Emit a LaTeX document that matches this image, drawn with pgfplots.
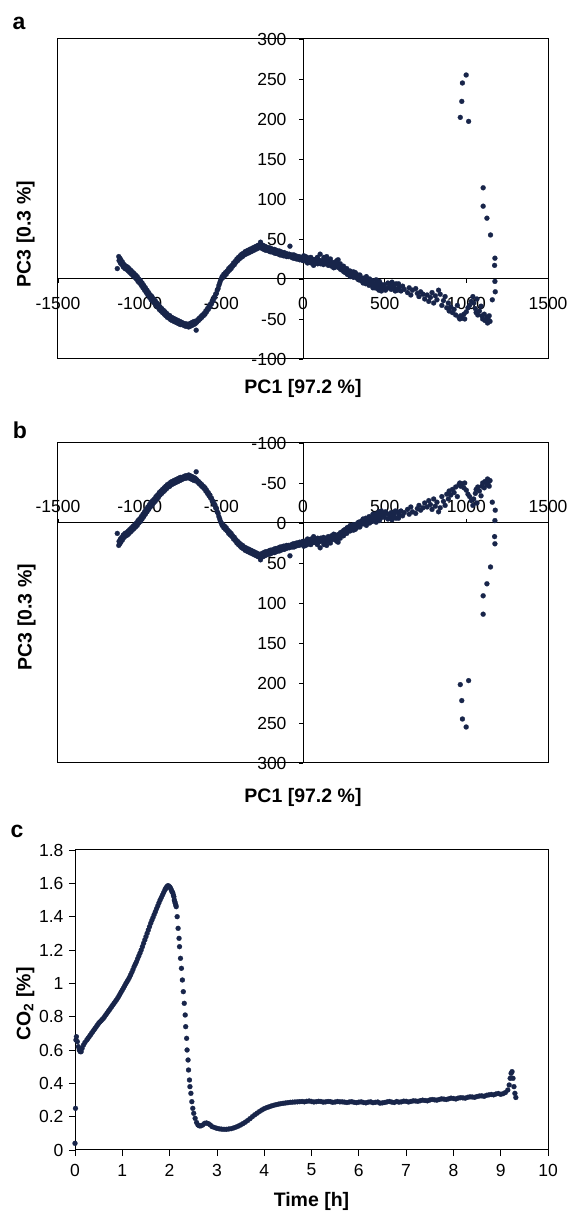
\documentclass[border=0pt]{standalone}
\usepackage{fontspec}
\setmainfont{Liberation Sans}
\usepackage{pgfplots}
\usepackage{pgfplotstable}
\pgfplotsset{compat=1.18}
\definecolor{navy}{RGB}{24,37,74}

\pgfplotstableread{
x y
-1137 13
-1128 28
-1126 23
-1122 26
-1118 20
-1115 24
-1110 18
-1105 21
-1100 15
-1095 18
-1090 13
-1085 16
-1080 12
-1075 15
-1070 10
-1065 13
-1060 8
-1055 11
-1050 6
-1045 9
-1040 4
-1035 7
-1030 2
-1025 5
-1020 0
-1015 3
-1010 -3
-1005 0
-1000 -5
-995 -2
-990 -8
-985 -5
-980 -11
-975 -8
-970 -14
-965 -11
-960 -17
-955 -14
-950 -20
-945 -17
-940 -23
-935 -20
-930 -26
-925 -22
-920 -28
-915 -25
-910 -30
-905 -27
-900 -33
-895 -30
-890 -35
-885 -32
-880 -38
-875 -35
-870 -40
-865 -37
-860 -42
-855 -39
-850 -44
-845 -41
-840 -46
-835 -43
-830 -48
-825 -45
-820 -49
-815 -46
-810 -51
-805 -48
-800 -52
-795 -49
-790 -53
-785 -50
-780 -54
-775 -51
-770 -55
-765 -52
-760 -56
-755 -53
-750 -57
-745 -54
-740 -57
-735 -55
-730 -58
-725 -56
-720 -59
-715 -56
-710 -59
-705 -57
-700 -60
-695 -56
-690 -59
-685 -55
-680 -58
-675 -54
-670 -57
-665 -53
-660 -56
-654 -64
-650 -54
-645 -51
-640 -52
-635 -49
-630 -50
-625 -47
-620 -48
-615 -45
-610 -46
-605 -43
-600 -44
-595 -40
-590 -41
-585 -37
-580 -38
-575 -34
-570 -35
-565 -31
-560 -31
-555 -27
-550 -27
-545 -23
-540 -23
-535 -19
-530 -18
-525 -14
-520 -12
-515 -8
-510 -5
-505 -2
-500 0
-495 3
-490 2
-485 6
-480 4
-475 8
-470 6
-465 10
-460 9
-455 13
-450 11
-445 15
-440 13
-435 17
-430 16
-425 20
-420 18
-415 22
-410 21
-405 25
-400 23
-395 27
-390 25
-385 29
-380 27
-375 31
-370 28
-365 32
-360 30
-355 34
-350 31
-345 35
-340 32
-335 36
-330 33
-325 37
-320 34
-315 38
-310 35
-305 39
-300 36
-295 40
-290 37
-285 41
-280 38
-275 42
-270 39
-265 43
-260 46
-255 41
-250 38
-245 42
-240 37
-235 41
-230 36
-225 40
-220 36
-215 39
-210 35
-205 39
-200 34
-195 38
-190 34
-185 37
-180 33
-175 37
-170 32
-165 36
-160 32
-155 35
-150 31
-145 35
-140 30
-135 34
-130 30
-125 33
-120 29
-115 33
-110 29
-105 32
-100 28
-95 31
-90 28
-85 31
-80 41
-75 30
-70 27
-65 30
-60 26
-55 30
-50 26
-45 29
-40 25
-35 28
-30 25
-25 28
-20 24
-15 27
-10 24
-5 27
0 23
5 29
10 25
12 28
15 28
20 22
25 27
28 20
30 24
35 21
40 26
45 23
48 27
50 20
55 25
60 22
65 17
68 20
70 24
75 21
80 25
85 22
88 27
90 19
95 24
100 21
105 31
108 19
110 23
115 20
120 22
125 18
128 27
130 24
135 21
140 19
145 28
148 23
150 21
155 17
160 22
165 19
168 25
170 21
175 16
180 20
185 18
188 14
190 17
195 21
200 15
205 20
208 23
210 17
215 24
220 14
225 16
228 19
230 12
235 15
240 11
245 14
248 16
250 9
255 12
260 8
265 11
268 13
270 6
275 9
280 5
285 8
288 10
290 3
295 7
300 4
305 6
308 9
310 2
315 5
320 8
325 3
328 6
330 1
335 4
340 -1
345 2
348 5
350 3
355 -2
360 0
365 -3
368 -5
370 1
375 -4
380 -1
385 -6
388 3
390 -2
395 -5
400 -3
405 -8
408 0
410 -4
415 -7
420 -5
425 -2
428 -11
430 -9
435 -6
440 -11
445 -7
448 -1
450 -4
455 -12
460 -8
465 -14
468 -3
470 -9
475 -6
480 -15
485 -12
490 -10
500 -7
505 -14
510 -12
520 -5
525 -11
530 -9
540 -13
545 -4
550 -8
560 -11
565 -15
570 -6
580 -14
585 -6
590 -10
600 -15
610 -9
620 -13
640 -17
650 -11
660 -20
670 -14
690 -12
700 -18
710 -22
720 -16
735 -19
745 -25
760 -20
770 -28
780 -23
790 -17
800 -30
810 -21
820 -26
830 -14
840 -19
850 -33
860 -27
870 -22
880 -36
890 -30
895 -40
905 -35
915 -42
925 -38
935 -45
945 -33
955 -48
960 -50
965 -46
975 -49
985 -44
990 -50
1000 -41
1010 -36
1020 -33
1030 -28
1040 -22
1045 -30
1055 -37
1060 -42
1065 -25
1070 -45
1080 -40
1090 -34
1095 -46
1100 -50
1110 -44
1115 -52
1125 -48
1130 -55
1135 -51
1140 -46
1145 -53
1014 197
963 202
972 222
976 245
999 255
1103 114
1103 91
1126 76
1148 55
1175 26
1173 17
1175 -3
1177 -16
1159 -26
}\pcdata

\pgfplotstableread{
t y
0.00 0.04
0.01 0.25
0.02 0.66
0.03 0.68
0.05 0.65
0.07 0.62
0.09 0.60
0.11 0.59
0.13 0.59
0.15 0.61
0.18 0.63
0.21 0.645
0.25 0.66
0.275 0.67
0.30 0.68
0.325 0.69
0.35 0.70
0.375 0.71
0.40 0.72
0.425 0.73
0.45 0.74
0.475 0.75
0.50 0.76
0.525 0.768
0.55 0.775
0.575 0.783
0.60 0.79
0.625 0.80
0.65 0.81
0.675 0.82
0.70 0.83
0.725 0.84
0.75 0.85
0.775 0.86
0.80 0.87
0.825 0.88
0.85 0.89
0.875 0.90
0.90 0.91
0.925 0.922
0.95 0.935
0.975 0.948
1.00 0.96
1.025 0.972
1.05 0.985
1.075 0.998
1.10 1.01
1.125 1.022
1.15 1.035
1.175 1.05
1.20 1.065
1.225 1.082
1.25 1.10
1.275 1.115
1.30 1.13
1.325 1.148
1.35 1.165
1.375 1.182
1.40 1.20
1.425 1.22
1.45 1.24
1.475 1.26
1.50 1.28
1.525 1.30
1.55 1.32
1.575 1.34
1.60 1.36
1.625 1.378
1.65 1.395
1.675 1.413
1.70 1.43
1.725 1.448
1.75 1.465
1.775 1.483
1.80 1.50
1.825 1.515
1.85 1.53
1.875 1.545
1.90 1.56
1.915 1.568
1.93 1.575
1.945 1.58
1.96 1.585
1.975 1.585
1.99 1.58
2.005 1.578
2.02 1.57
2.035 1.562
2.05 1.55
2.065 1.545
2.08 1.53
2.09 1.52
2.10 1.50
2.11 1.49
2.12 1.48
2.13 1.47
2.14 1.46
2.16 1.40
2.18 1.33
2.20 1.27
2.21 1.22
2.23 1.15
2.25 1.09
2.27 1.02
2.29 0.95
2.31 0.88
2.33 0.81
2.34 0.74
2.36 0.67
2.37 0.60
2.39 0.54
2.40 0.48
2.42 0.42
2.43 0.38
2.45 0.34
2.47 0.29
2.49 0.25
2.51 0.22
2.54 0.19
2.57 0.165
2.60 0.15
2.63 0.145
2.66 0.145
2.70 0.15
2.74 0.16
2.78 0.162
2.82 0.158
2.86 0.15
2.90 0.14
2.95 0.135
3.00 0.13
3.05 0.127
3.10 0.125
3.15 0.124
3.20 0.124
3.25 0.126
3.30 0.128
3.35 0.132
3.40 0.137
3.45 0.143
3.50 0.15
3.55 0.158
3.60 0.167
3.65 0.177
3.70 0.188
3.75 0.20
3.80 0.211
3.85 0.221
3.90 0.231
3.95 0.240
4.00 0.248
4.05 0.254
4.10 0.259
4.15 0.264
4.20 0.268
4.25 0.272
4.30 0.275
4.35 0.278
4.40 0.28
4.45 0.282
4.50 0.284
4.55 0.286
4.60 0.287
4.65 0.288
4.70 0.289
4.75 0.29
4.80 0.291
4.85 0.289
4.90 0.292
4.95 0.294
5.00 0.291
5.05 0.288
5.10 0.290
5.15 0.292
5.20 0.291
5.25 0.287
5.30 0.289
5.35 0.291
5.40 0.290
5.45 0.286
5.50 0.288
5.55 0.291
5.60 0.289
5.65 0.289
5.70 0.287
5.75 0.285
5.80 0.288
5.85 0.290
5.90 0.286
5.95 0.284
6.00 0.287
6.05 0.289
6.10 0.285
6.15 0.283
6.20 0.287
6.25 0.289
6.30 0.284
6.35 0.286
6.40 0.288
6.45 0.281
6.50 0.283
6.55 0.285
6.60 0.289
6.65 0.291
6.70 0.287
6.75 0.285
6.80 0.291
6.85 0.287
6.90 0.289
6.95 0.293
7.00 0.292
7.05 0.288
7.10 0.291
7.15 0.295
7.20 0.294
7.25 0.292
7.30 0.296
7.35 0.299
7.40 0.297
7.45 0.295
7.50 0.300
7.55 0.303
7.60 0.301
7.65 0.299
7.70 0.303
7.75 0.307
7.80 0.305
7.85 0.303
7.90 0.307
7.95 0.311
8.00 0.309
8.05 0.306
8.10 0.311
8.15 0.314
8.20 0.313
8.25 0.311
8.30 0.316
8.35 0.319
8.40 0.318
8.45 0.316
8.50 0.321
8.55 0.324
8.60 0.325
8.65 0.322
8.70 0.328
8.75 0.331
8.80 0.333
8.85 0.331
8.90 0.336
8.95 0.339
9.00 0.334
9.05 0.338
9.10 0.345
9.15 0.36
9.18 0.39
9.20 0.43
9.22 0.46
9.24 0.47
9.26 0.43
9.28 0.38
9.30 0.34
9.32 0.315
}\codata

\pgfplotsset{
  every axis/.append style={
    scale only axis, anchor=south west,
    /pgf/number format/1000 sep={},
    /pgf/number format/assume math mode=true,
    tick label style={font=\fontsize{17.5}{20}\selectfont},
  },
  pcaxis/.style={
    width=490pt, height=320pt,
    xmin=-1500, xmax=1500, ymin=-100, ymax=300,
    axis lines=middle,
    axis line style={-, line width=1pt, black},
    xtick={-1500,-1000,-500,0,500,1000,1500},
    ytick={-100,-50,0,50,100,150,200,250,300},
    hide obscured x ticks=false, hide obscured y ticks=false,
    tick align=outside, major tick length=4pt,
    tick style={line width=0.8pt, black},
    yticklabel style={anchor=east, xshift=-9pt},
    clip=false,
  },
  dots/.style={only marks, mark=*, mark size=2.5pt, color=navy, mark options={fill=navy, line width=0.2pt}},
}
\newcommand{\labfont}{\bfseries\fontsize{19.5}{22}\selectfont}

\begin{document}
\begin{tikzpicture}
\useasboundingbox (0,0) rectangle (572pt,1214pt);

% ---------- panel a ----------
\begin{axis}[pcaxis, at={(58pt,855pt)},
  xticklabel style={anchor=center, yshift=-20pt},
  xlabel={PC1 [97.2 \%]},
  xlabel style={font=\labfont, at={(axis description cs:0.5,0)}, anchor=center, yshift=-29pt},
  ylabel={PC3 [0.3 \%]},
  ylabel style={font=\labfont, at={(axis description cs:-0.066,0.39)}, anchor=center, rotate=90},
]
\draw[line width=1pt] (rel axis cs:0,0) rectangle (rel axis cs:1,1);
\addplot[dots] table[x=x,y=y] {\pcdata};
\end{axis}
\node[font=\bfseries\fontsize{23}{25}\selectfont] at (19pt,1191pt) {a};

% ---------- panel b ----------
\begin{axis}[pcaxis, at={(58pt,451pt)}, y dir=reverse,
  xticklabel style={anchor=center, yshift=21pt},
  xlabel={PC1 [97.2 \%]},
  xlabel style={font=\labfont, at={(axis description cs:0.5,0)}, anchor=center, yshift=-34pt},
  ylabel={PC3 [0.3 \%]},
  ylabel style={font=\labfont, at={(axis description cs:-0.064,0.456)}, anchor=center, rotate=90},
]
\draw[line width=1pt] (rel axis cs:0,0) rectangle (rel axis cs:1,1);
\addplot[dots] table[x=x,y=y] {\pcdata};
\end{axis}
\node[font=\bfseries\fontsize{23}{25}\selectfont] at (20pt,784pt) {b};

% ---------- panel c ----------
\begin{axis}[at={(75pt,64pt)}, width=473pt, height=300pt,
  xmin=0, xmax=10, ymin=0, ymax=1.8,
  xtick={0,1,2,3,4,5,6,7,8,9,10},
  ytick={0,0.2,0.4,0.6,0.8,1,1.2,1.4,1.6,1.8},
  axis line style={line width=1pt, black},
  tick pos=left, tick align=outside, major tick length=6pt,
  tick style={line width=0.8pt, black},
  xticklabel style={anchor=center, yshift=-14pt},
  yticklabel style={anchor=east, xshift=-2pt},
  xlabel={Time [h]},
  xlabel style={font=\labfont, at={(axis description cs:0.5,0)}, anchor=center, yshift=-51pt},
  ylabel={CO\textsubscript{2} [\%]},
  ylabel style={font=\labfont, at={(axis description cs:-0.105,0.487)}, anchor=center},
  clip=false,
]
\addplot[dots] table[x=t,y=y] {\codata};
\end{axis}
\node[font=\bfseries\fontsize{23}{25}\selectfont] at (17pt,383pt) {c};
\end{tikzpicture}
\end{document}
